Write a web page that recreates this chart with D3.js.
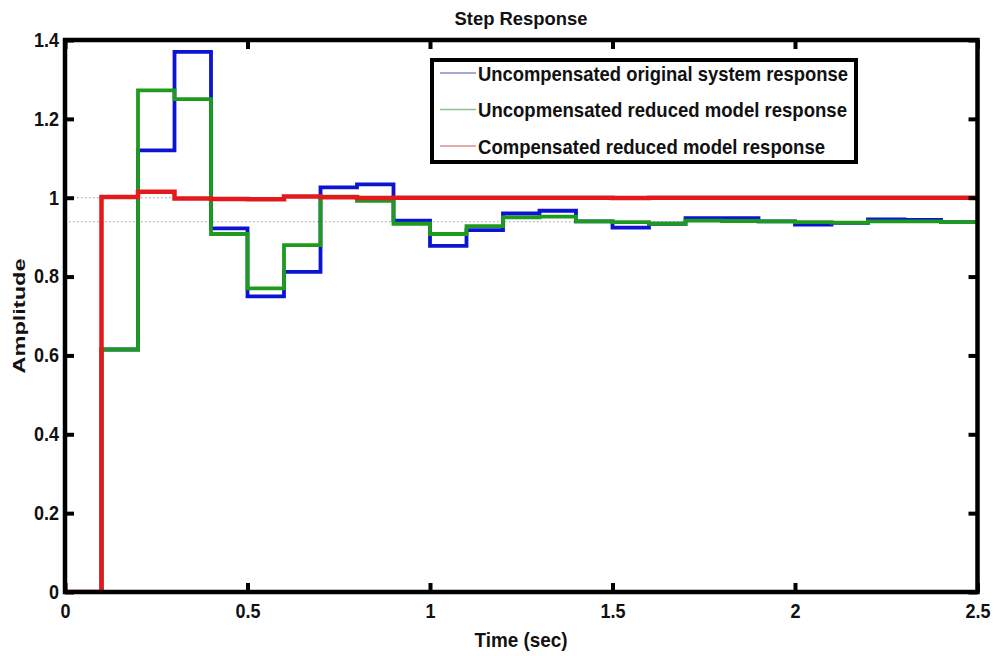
<!DOCTYPE html>
<html lang="en">
<head>
<meta charset="utf-8">
<title>Step Response</title>
<script src="https://d3js.org/d3.v7.min.js"></script>
<style>
body { margin: 0; background: #fff; }
text { font-family: "Liberation Sans", Arial, sans-serif; font-weight: bold; fill: #111; }
</style>
</head>
<body>
<script>
// Display constants
var width = 995;
var height = 656;
var margin = {left: 65, right: 17.5, top: 40, bottom: 64};

// Data (sample time 0.1 s, held as stairs)
var timeSteps = [0, 0.1, 0.2, 0.3, 0.4, 0.5, 0.6, 0.7, 0.8, 0.9, 1.0, 1.1, 1.2,
                 1.3, 1.4, 1.5, 1.6, 1.7, 1.8, 1.9, 2.0, 2.1, 2.2, 2.3, 2.4, 2.5];

var originalResponse = [0, 0.615, 1.12, 1.37, 0.922, 0.750, 0.812, 1.026, 1.034, 0.942,
                        0.878, 0.918, 0.960, 0.967, 0.940, 0.924, 0.934, 0.948, 0.948,
                        0.940, 0.932, 0.936, 0.945, 0.944, 0.938, 0.938];

var reducedResponse = [0, 0.615, 1.272, 1.250, 0.908, 0.770, 0.880, 1.003, 0.992, 0.934,
                       0.908, 0.928, 0.950, 0.952, 0.940, 0.938, 0.934, 0.942, 0.941,
                       0.940, 0.938, 0.937, 0.940, 0.940, 0.938, 0.938];

var compensatedResponse = [0, 1.002, 1.015, 0.998, 0.997, 0.996, 1.003, 1.001, 0.999, 1.0,
                           1.0, 1.0, 1.0, 1.0, 1.0, 0.999, 1.0, 1.0, 1.0,
                           1.0, 1.0, 1.0, 1.0, 1.0, 1.0, 1.0];

var steadyStates = [1.0, 0.939];

var seriesNames = ["Uncompensated original system response",
                   "Uncopmensated reduced model response",
                   "Compensated reduced model response"];
var seriesColors = ["#0a14d2", "#1e9b1e", "#e3191c"];
var seriesWidths = [3.8, 3.8, 4.5];
var legendColors = ["#8a8ac8", "#8cc08c", "#d89090"];

var xTicks = [0, 0.5, 1, 1.5, 2, 2.5];
var xTickLabels = ["0", "0.5", "1", "1.5", "2", "2.5"];
var yTicks = [0, 0.2, 0.4, 0.6, 0.8, 1, 1.2, 1.4];
var yTickLabels = ["0", "0.2", "0.4", "0.6", "0.8", "1", "1.2", "1.4"];

var svg = d3.select("body").append("svg")
  .attr("width", width)
  .attr("height", height);

var x = d3.scaleLinear().domain([0, 2.5]).range([margin.left, width - margin.right]);
var y = d3.scaleLinear().domain([0, 1.4]).range([height - margin.bottom, margin.top]);

// squeeze text horizontally, the source picture is narrow
function squeeze(sel, k) {
  sel.each(function() {
    var w = this.getComputedTextLength();
    d3.select(this).attr("textLength", w * k).attr("lengthAdjust", "spacingAndGlyphs");
  });
}

svg.append("clipPath").attr("id", "plot-clip")
  .append("rect")
  .attr("x", x(0)).attr("y", y(1.4))
  .attr("width", x(2.5) - x(0)).attr("height", y(0) - y(1.4));

var plot = svg.append("g").attr("clip-path", "url(#plot-clip)");

// dotted steady state lines
plot.selectAll(".steady")
  .data(steadyStates)
  .enter().append("line")
  .attr("x1", x(0)).attr("x2", x(2.5))
  .attr("y1", function(d) { return y(d); })
  .attr("y2", function(d) { return y(d); })
  .attr("stroke", "#9a9a9a")
  .attr("stroke-width", 1)
  .attr("stroke-dasharray", "1.5,2.5");

var stairs = d3.line()
  .x(function(d, i) { return x(timeSteps[i]); })
  .y(function(d) { return y(d); })
  .curve(d3.curveStepAfter);

[originalResponse, reducedResponse, compensatedResponse].forEach(function(values, i) {
  plot.append("path")
    .attr("d", stairs(values))
    .attr("fill", "none")
    .attr("stroke", seriesColors[i])
    .attr("stroke-width", seriesWidths[i]);
});

// Axes (ticks point inwards, on all four sides)
var bottomAxis = svg.append("g")
  .attr("transform", "translate(0," + y(0) + ")")
  .call(d3.axisBottom(x).tickValues(xTicks)
    .tickFormat(function(d, i) { return xTickLabels[i]; })
    .tickSizeInner(-9).tickSizeOuter(0).tickPadding(12));

var leftAxis = svg.append("g")
  .attr("transform", "translate(" + x(0) + ",0)")
  .call(d3.axisLeft(y).tickValues(yTicks)
    .tickFormat(function(d, i) { return yTickLabels[i]; })
    .tickSizeInner(-9).tickSizeOuter(0).tickPadding(6));

var topAxis = svg.append("g")
  .attr("transform", "translate(0," + y(1.4) + ")")
  .call(d3.axisTop(x).tickValues(xTicks).tickFormat("").tickSizeInner(-9).tickSizeOuter(0));

var rightAxis = svg.append("g")
  .attr("transform", "translate(" + x(2.5) + ",0)")
  .call(d3.axisRight(y).tickValues(yTicks).tickFormat("").tickSizeInner(-9).tickSizeOuter(0));

[bottomAxis, leftAxis, topAxis, rightAxis].forEach(function(ax) {
  ax.select(".domain").remove();
  ax.selectAll(".tick line").attr("stroke", "#000").attr("stroke-width", 4);
  ax.selectAll(".tick text")
    .style("font-family", "'Liberation Sans', Arial, sans-serif")
    .style("font-weight", "bold")
    .style("font-size", "20px")
    .attr("fill", "#111");
});
squeeze(bottomAxis.selectAll(".tick text"), 0.9);
squeeze(leftAxis.selectAll(".tick text"), 0.9);

// axes box
svg.append("rect")
  .attr("x", x(0)).attr("y", y(1.4))
  .attr("width", x(2.5) - x(0)).attr("height", y(0) - y(1.4))
  .attr("fill", "none")
  .attr("stroke", "#000")
  .attr("stroke-width", 4.5);

// Titles
svg.append("text")
  .attr("x", 521).attr("y", 25)
  .attr("text-anchor", "middle")
  .style("font-size", "19px")
  .attr("textLength", 133).attr("lengthAdjust", "spacingAndGlyphs")
  .text("Step Response");

svg.append("text")
  .attr("x", 521).attr("y", 647)
  .attr("text-anchor", "middle")
  .style("font-size", "21px")
  .attr("textLength", 93).attr("lengthAdjust", "spacingAndGlyphs")
  .text("Time (sec)");

svg.append("text")
  .attr("transform", "translate(25,316) rotate(-90)")
  .attr("text-anchor", "middle")
  .style("font-size", "17px")
  .attr("textLength", 115).attr("lengthAdjust", "spacingAndGlyphs")
  .text("Amplitude");

// Legend drawn by hand
var legendWidths = [370, 369, 347];
var legend = svg.append("g").attr("class", "legend");

legend.append("rect")
  .attr("x", 432).attr("y", 60)
  .attr("width", 424).attr("height", 102)
  .attr("fill", "#fff")
  .attr("stroke", "#000")
  .attr("stroke-width", 4);

seriesNames.forEach(function(name, i) {
  var cy = 73 + i * 36.5;
  legend.append("line")
    .attr("x1", 440).attr("x2", 476)
    .attr("y1", cy).attr("y2", cy)
    .attr("stroke", legendColors[i])
    .attr("stroke-width", 1.5);
  legend.append("text")
    .attr("x", 478).attr("y", cy + 7.5)
    .style("font-size", "21px")
    .attr("textLength", legendWidths[i]).attr("lengthAdjust", "spacingAndGlyphs")
    .text(name);
});
</script>
</body>
</html>
